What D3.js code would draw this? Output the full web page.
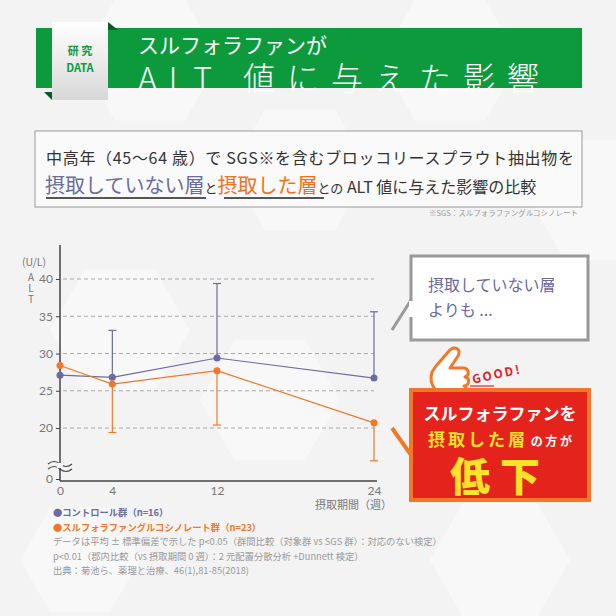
<!DOCTYPE html>
<html><head><meta charset="utf-8">
<script src="https://cdn.jsdelivr.net/npm/d3@7"></script>
<style>body{margin:0;background:#f2f2f2}svg{display:block;font-family:"Noto Sans CJK JP",sans-serif}</style>
</head><body><svg id="c" width="616" height="616"></svg>
<script>
const weeks=[0,4,12,24];
const controlMean=[27.1,26.8,29.4,26.7];
const controlSD=[null,6.3,10.0,8.9];
const sgsMean=[28.4,25.9,27.7,20.7];
const sgsSD=[null,6.5,7.3,5.1];
const yTicks=[0,20,25,30,35,40];
const xTicks=[0,4,12,24];

const svg=d3.select("#c");
svg.append("rect").attr("width",616).attr("height",616).attr("fill","#f3f3f3");
const hex=(cx,cy,r)=>d3.range(6).map(i=>[cx+r*Math.cos(Math.PI/3*i),cy+r*Math.sin(Math.PI/3*i)]);
[[150,60,70],[300,170,70],[450,60,70],[120,330,70],[270,400,70],[500,560,70],[80,560,60],[600,200,70]].forEach(h=>
 svg.append("polygon").attr("points",hex(...h).join(" ")).attr("fill","#f8f8f8"));

// header
svg.append("rect").attr("x",36).attr("y",28).attr("width",546).attr("height",60).attr("fill","#0c9a3c");
svg.append("polygon").attr("points","108,22 118,30 108,30").attr("fill","#065a22");
svg.append("polygon").attr("points","52,100 44,92 52,92").attr("fill","#065a22");
const g=svg.append("defs").append("linearGradient").attr("id","tab").attr("x1",0).attr("x2",0).attr("y1",0).attr("y2",1);
g.append("stop").attr("offset",0).attr("stop-color","#ffffff");g.append("stop").attr("offset",1).attr("stop-color","#d8d8d8");
svg.append("rect").attr("x",52).attr("y",22).attr("width",56).attr("height",78).attr("fill","url(#tab)");
svg.append("text").attr("x",80).attr("y",55).attr("text-anchor","middle").attr("font-size",11).attr("font-weight","bold").attr("fill","#0c9a3c").text("研 究");
svg.append("text").attr("x",80).attr("y",72).attr("text-anchor","middle").attr("font-size",11).attr("font-weight","bold").attr("fill","#0c9a3c").text("DATA");
svg.append("text").attr("x",138).attr("y",53).attr("font-size",21).attr("fill","#fff").text("スルフォラファンが");
svg.append("text").attr("x",138).attr("y",90).attr("font-size",32).attr("letter-spacing",12).attr("font-weight",300).attr("fill","#fff").text("ALT 値に与えた影響");

// subtitle box
svg.append("rect").attr("x",35).attr("y",131).attr("width",547).attr("height",76).attr("fill","#fafafa").attr("stroke","#9a9a9a");
svg.append("text").attr("x",46).attr("y",164).attr("font-size",16).attr("textLength",528).attr("fill","#333").text("中高年（45〜64 歳）で SGS※を含むブロッコリースプラウト抽出物を");
const t2=svg.append("text").attr("x",45).attr("y",193).attr("font-size",16).attr("fill","#333");
t2.append("tspan").attr("font-size",20).attr("fill","#6b6b9e").text("摂取していない層");
t2.append("tspan").attr("font-size",13).text("と");
t2.append("tspan").attr("font-size",20).attr("fill","#f07020").text("摂取した層");
t2.append("tspan").attr("font-size",13).text("との");
t2.append("tspan").text(" ALT 値に与えた影響の比較");
svg.append("line").attr("x1",46).attr("x2",206).attr("y1",198).attr("y2",198).attr("stroke","#555").attr("stroke-width",2);
svg.append("line").attr("x1",224).attr("x2",324).attr("y1",198).attr("y2",198).attr("stroke","#555").attr("stroke-width",2);
svg.append("text").attr("x",578).attr("y",216).attr("text-anchor","end").attr("font-size",7.5).attr("fill","#999").text("※SGS：スルフォラファングルコシノレート");

// chart
const x=d3.scaleLinear().domain([0,24]).range([60,374]);
const y=d3.scaleLinear().domain([0,15,40]).range([479,465.3,279]);
const ch=svg.append("g");
yTicks.filter(v=>v>0).forEach(v=>ch.append("line").attr("x1",63).attr("x2",374).attr("y1",y(v)).attr("y2",y(v)).attr("stroke","#aaa").attr("stroke-dasharray","4,3"));
const ya=ch.append("g").attr("transform","translate(60,0)").call(d3.axisLeft(y).tickValues(yTicks).tickSize(4).tickSizeOuter(0));
ya.select(".domain").remove();
ya.selectAll("text").attr("font-size",12).attr("fill","#777").attr("font-family","Lato,sans-serif");
ya.selectAll("line").attr("stroke","#444");
const xa=ch.append("g").attr("transform","translate(0,481)").call(d3.axisBottom(x).tickValues(xTicks).tickSize(0).tickPadding(5));
xa.select(".domain").remove();
xa.selectAll("text").attr("font-size",12).attr("fill","#777").attr("font-family","Lato,sans-serif");
ch.append("line").attr("x1",60).attr("x2",60).attr("y1",245).attr("y2",481).attr("stroke","#444").attr("stroke-width",1.5);
ch.append("line").attr("x1",60).attr("x2",377).attr("y1",481).attr("y2",481).attr("stroke","#444").attr("stroke-width",1.5);
[464,469].forEach(yy=>ch.append("path").attr("d",`M48,${yy} q6,-5 12,0 t12,0`).attr("fill","none").attr("stroke","#444").attr("stroke-width",1.2));
ch.append("rect").attr("x",57).attr("y",463).attr("width",6).attr("height",5).attr("fill","#f3f3f3");
ch.append("text").attr("x",22).attr("y",266).attr("font-size",10.5).attr("fill","#777").text("(U/L)");
["A","L","T"].forEach((c,i)=>ch.append("text").attr("x",31).attr("y",281+i*11).attr("text-anchor","middle").attr("font-size",10).attr("fill","#777").text(c));
ch.append("text").attr("x",392).attr("y",509).attr("text-anchor","end").attr("font-size",11).attr("fill","#777").text("摂取期間（週）");

function series(mean,sd,col,up){
  weeks.forEach((w,i)=>{ if(sd[i]==null)return;
    const e=up?mean[i]+sd[i]:mean[i]-sd[i];
    ch.append("line").attr("x1",x(w)).attr("x2",x(w)).attr("y1",y(mean[i])).attr("y2",y(e)).attr("stroke",col).attr("stroke-width",1.2);
    ch.append("line").attr("x1",x(w)-4).attr("x2",x(w)+4).attr("y1",y(e)).attr("y2",y(e)).attr("stroke",col).attr("stroke-width",1.2);});
  ch.append("path").datum(weeks.map((w,i)=>[w,mean[i]])).attr("d",d3.line().x(d=>x(d[0])).y(d=>y(d[1]))).attr("fill","none").attr("stroke",col).attr("stroke-width",1.2);
  ch.selectAll(null).data(weeks.map((w,i)=>[w,mean[i]])).join("circle").attr("cx",d=>x(d[0])).attr("cy",d=>y(d[1])).attr("r",3.5).attr("fill",col);
}
series(controlMean,controlSD,"#6b6b9e",true);
series(sgsMean,sgsSD,"#f07828",false);

const notes=[["●コントロール群（n=16）","#6b6b9e"],["●スルフォラファングルコシノレート群（n=23）","#f07828"],
["データは平均 ± 標準偏差で示した p<0.05（群間比較（対象群 vs SGS 群）：対応のない検定）","#999"],
["p<0.01（郡内比較（vs 摂取期間 0 週）：2 元配置分散分析 +Dunnett 検定）","#999"],
["出典：菊池ら、薬理と治療、46(1),81-85(2018)","#999"]];
notes.forEach((n,i)=>svg.append("text").attr("x",53).attr("y",516+i*14.5).attr("font-size",9.3).attr("font-weight",i<2?"bold":"normal").attr("fill",n[1]).text(n[0]));

// callout 1
svg.append("rect").attr("x",411).attr("y",256).attr("width",177).attr("height",84).attr("fill","#fff").attr("stroke","#999").attr("stroke-width",3);
svg.append("path").attr("d","M411,300 L392,330").attr("stroke","#999").attr("stroke-width",3).attr("fill","none");
svg.append("rect").attr("x",409).attr("y",301).attr("width",4).attr("height",16).attr("fill","#fff");
svg.append("text").attr("x",428).attr("y",291).attr("font-size",16).attr("fill","#6b6b9e").text("摂取していない層");
svg.append("text").attr("x",428).attr("y",316).attr("font-size",16).attr("fill","#6b6b9e").text("よりも ...");

// GOOD hand
svg.append("path").attr("d","M432,372 C428,385 438,398 452,396 L462,395 C468,394 468,388 464,386 C470,385 470,378 465,377 C470,375 469,368 463,368 L450,368 L458,356 C462,349 454,345 449,351 L436,366 Z").attr("fill","#fff").attr("stroke","#f07828").attr("stroke-width",3).attr("stroke-linejoin","round");
svg.append("text").attr("x",472).attr("y",380).attr("font-size",12).attr("font-weight","bold").attr("fill","#e0202a").attr("letter-spacing",2).attr("transform","rotate(-12,490,376)").text("GOOD!");
svg.append("line").attr("x1",470).attr("x2",494).attr("y1",386).attr("y2",386).attr("stroke","#e0202a").attr("stroke-width",1.2);
// red box
svg.append("rect").attr("x",411).attr("y",390).attr("width",178).attr("height",110).attr("fill","#e4231c").attr("stroke","#f07828").attr("stroke-width",4);
svg.append("path").attr("d","M392,428 L411,455").attr("stroke","#f07828").attr("stroke-width",4);
svg.append("text").attr("x",500).attr("y",420).attr("text-anchor","middle").attr("font-size",17).attr("font-weight","bold").attr("fill","#fff").text("スルフォラファンを");
const t3=svg.append("text").attr("x",500).attr("y",446).attr("text-anchor","middle").attr("font-weight","bold").attr("fill","#ffe22a");
t3.append("tspan").attr("font-size",17).attr("letter-spacing",3).text("摂取した層");t3.append("tspan").attr("font-size",12).attr("fill","#fff").text(" の 方 が");
svg.append("text").attr("x",500).attr("y",491).attr("text-anchor","middle").attr("font-size",40).attr("font-weight","900").attr("letter-spacing",10).attr("fill","#ffe22a").text("低下");
</script></body></html>
